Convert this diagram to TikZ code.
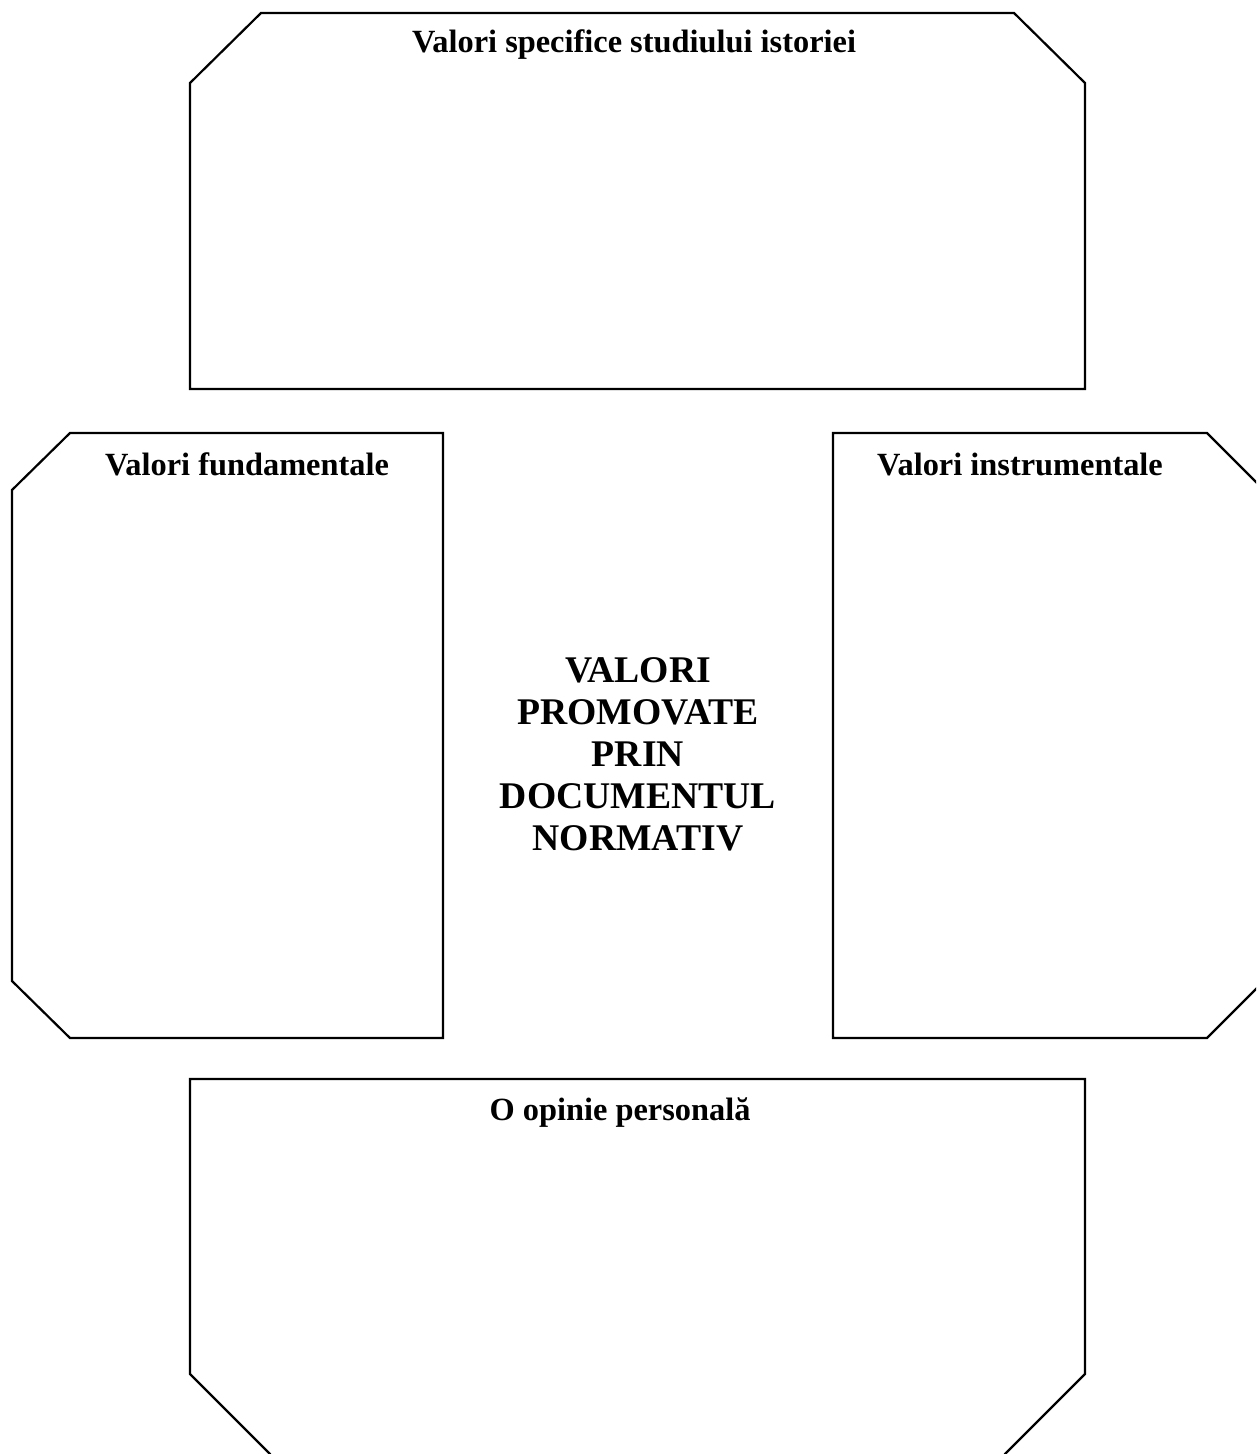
\documentclass[tikz,border=0pt]{standalone}
\usepackage{fontspec}
\setmainfont{Liberation Serif}
\begin{document}
\begin{tikzpicture}[x=1bp,y=-1bp,
  frame/.style={draw=black,line width=2.2bp,line join=miter},
  heading/.style={anchor=base,font=\bfseries\fontsize{32.5}{38}\selectfont,inner sep=0pt},
  centre/.style={anchor=base,align=center,font=\bfseries\fontsize{37.8}{42}\selectfont,inner sep=0pt}]
\useasboundingbox (0,0) rectangle (1256,1454);
\clip (0,0) rectangle (1256,1454);
% upper panel
\draw[frame] (261,13) -- (1014,13) -- (1085,83) -- (1085,389) -- (190,389) -- (190,83) -- cycle;
% left panel
\draw[frame] (70,433) -- (443,433) -- (443,1038) -- (70,1038) -- (12,981) -- (12,490) -- cycle;
% right panel
\draw[frame] (833,433) -- (1207,433) -- (1264,490) -- (1264,981) -- (1207,1038) -- (833,1038) -- cycle;
% lower panel
\draw[frame] (190,1079) -- (1085,1079) -- (1085,1374) -- (1005,1454) -- (1005,1460) -- (270,1460) -- (270,1454) -- (190,1374) -- cycle;
% headings
\node[heading] (hTop) at (634,53) {Valori specifice studiului istoriei};
\node[heading] (hLeft) at (247,475) {Valori fundamentale};
\node[heading] (hRight) at (1020,475) {Valori instrumentale};
\node[heading] (hBottom) at (620,1120) {O opinie personală};
% central title (base anchor sits on the last line)
\node[centre] (core) at (638,850) {VALORI\\PROMOVATE\\PRIN\\DOCUMENTUL\\NORMATIV};
\end{tikzpicture}
\end{document}
